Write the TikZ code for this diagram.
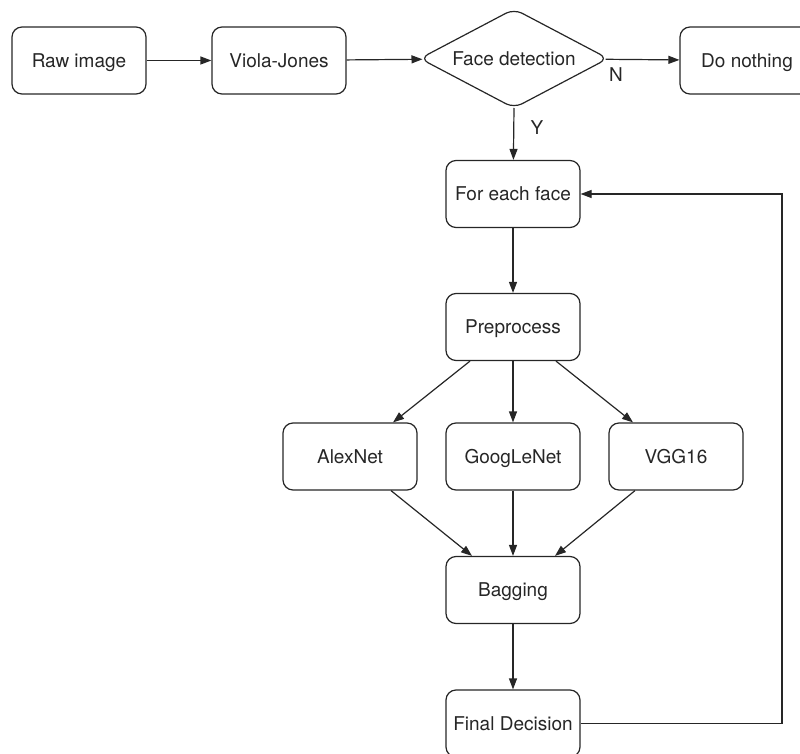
\documentclass[tikz,border=0pt]{standalone}
\usepackage{fontspec}
\setmainfont{TeX Gyre Heros}
\usetikzlibrary{shapes.geometric,arrows.meta}
\begin{document}
\begin{tikzpicture}[x=1pt,y=-1pt,
  txt/.style={font=\fontsize{19}{22}\selectfont, text=black!85, text height=13.6pt, text depth=0pt},
  box/.style={txt, draw=black!85, line width=1.2pt, rounded corners=10pt, minimum width=134pt, minimum height=67pt, inner sep=0pt},
  dec/.style={txt, draw=black!85, line width=1.2pt, diamond, aspect=1.899, rounded corners=9pt, minimum width=188pt, minimum height=99pt, inner sep=0pt, outer sep=0pt},
  arr/.style={draw=black!85, line width=1.2pt, -{Triangle[length=11pt,width=8pt]}},
  lbl/.style={txt, inner sep=0pt}
]
\useasboundingbox (0,0) rectangle (800,754);
\node[box] (raw) at (79,60.5) {Raw image};
\node[box] (vj) at (279,60.5) {Viola-Jones};
\node[dec] (fd) at (514,58.5) {Face detection};
\node[box] (dn) at (747,60.5) {Do nothing};
\node[box] (fe) at (513,194) {For each face};
\node[box] (pre) at (513,327) {Preprocess};
\node[box] (alex) at (350,456.5) {AlexNet};
\node[box] (goog) at (513,456.5) {GoogLeNet};
\node[box] (vgg) at (676,456.5) {VGG16};
\node[box] (bag) at (513,590) {Bagging};
\node[box] (fin) at (513,723.5) {Final Decision};
\coordinate (lp) at (782,723.5);
\coordinate (lq) at (782,194);
\node[lbl] (nl) at (616,75) {N};
\node[lbl] (yl) at (537,128) {Y};
\draw[arr] (raw) -- (vj);
\draw[arr, shorten >=-1pt] (vj) -- (fd);
\draw[arr, shorten <=-1pt] (fd) -- (dn);
\draw[arr] (fd.south) -- (fe);
\draw[arr] (fe) -- (pre);
\draw[arr] (pre.south) ++(-43,0) coordinate (p1) -- (alex.north -| 393,0);
\draw[arr] (pre) -- (goog);
\draw[arr] (pre.south) ++(43,0) coordinate (p2) -- (vgg.north -| 633,0);
\draw[arr] (alex.south) ++(41,0) coordinate (a1) -- (bag.north -| 472,0);
\draw[arr] (goog) -- (bag);
\draw[arr] (vgg.south) ++(-41,0) coordinate (v1) -- (bag.north -| 555,0);
\draw[arr] (bag) -- (fin);
\draw[arr] (fin.east) -- (lp) -- (lq) -- (fe.east);
\end{tikzpicture}
\end{document}
